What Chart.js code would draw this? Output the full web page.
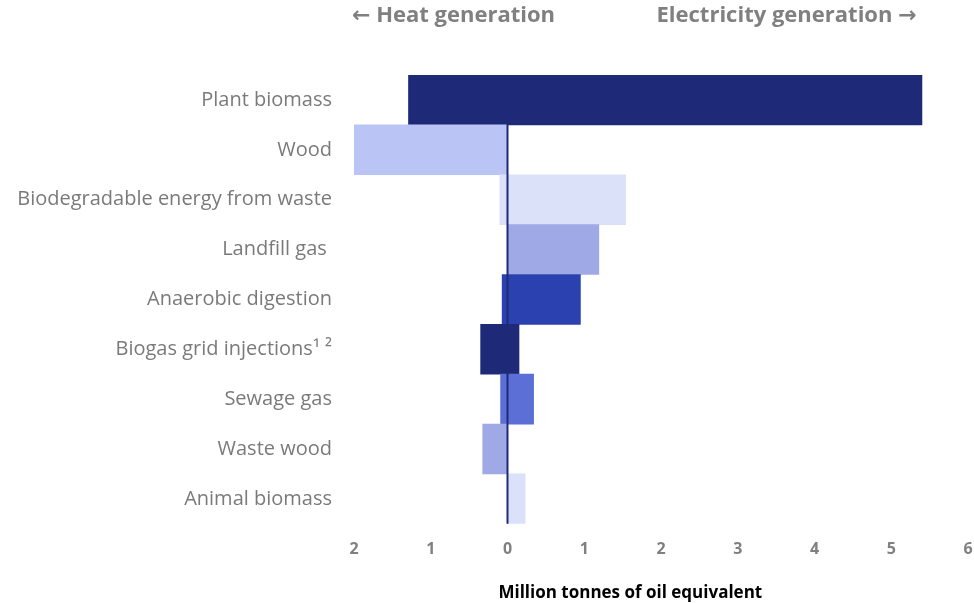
<!DOCTYPE html>
<html>
<head>
<meta charset="utf-8">
<script src="https://cdn.jsdelivr.net/npm/chart.js@4"></script>
<style>
  body { margin: 0; background: #fff; }
  #wrap { width: 974px; height: 603px; position: relative; }
</style>
</head>
<body>
<div id="wrap"><canvas id="bio-chart"></canvas></div>
<script>
// categories, top to bottom
var categories = ['Plant biomass', 'Wood', 'Biodegradable energy from waste', 'Landfill gas ',
  'Anaerobic digestion', 'Biogas grid injections\u00b9 \u00b2', 'Sewage gas', 'Waste wood', 'Animal biomass'];
// heat generation (plotted to the left, negative)
var heatValues = [-1.29, -2.01, -0.10, 0, -0.07, -0.35, -0.09, -0.32, 0];
// electricity generation (plotted to the right)
var elecValues = [5.40, 0, 1.54, 1.19, 0.95, 0.15, 0.34, 0, 0.23];
var barColours = ['#1e2a78', '#bac4f5', '#dce1fa', '#9ea9e6', '#2b41b0', '#1e2a78', '#5b6fd6', '#9ea9e6', '#dce1fa'];
var xTicks = [-2, -1, 0, 1, 2, 3, 4, 5, 6];

var FONT = "'Open Sans', 'DejaVu Sans', sans-serif";

var extraText = {
  id: 'extraText',
  afterDatasetsDraw: function(chart) {
    var c = chart.ctx, x = chart.scales.x, area = chart.chartArea;
    // zero line
    var zx = x.getPixelForValue(0);
    c.save();
    c.strokeStyle = '#1e2a78';
    c.lineWidth = 2;
    c.beginPath();
    c.moveTo(zx, area.top);
    c.lineTo(zx, area.bottom);
    c.stroke();
    c.restore();
  },
  afterDraw: function(chart) {
    var c = chart.ctx, x = chart.scales.x;
    c.save();
    c.fillStyle = '#808080';
    c.font = 'bold 22px ' + FONT;
    c.textBaseline = 'middle';
    c.textAlign = 'left';
    c.fillText('\u2190 Heat generation', x.getPixelForValue(-2) - 2, 16);
    c.textAlign = 'right';
    c.fillText('Electricity generation \u2192', x.getPixelForValue(5.33), 16);
    c.fillStyle = '#000';
    c.font = 'bold 17px ' + FONT;
    c.textAlign = 'center';
    c.fillText('Million tonnes of oil equivalent', x.getPixelForValue(1.6), 593);
    c.restore();
  }
};

var ctx = document.getElementById('bio-chart');
var bioChart = new Chart(ctx, {
  type: 'bar',
  data: {
    labels: categories,
    datasets: [
      {
        label: 'Heat generation',
        data: heatValues,
        backgroundColor: barColours,
        barPercentage: 1,
        categoryPercentage: 1
      },
      {
        label: 'Electricity generation',
        data: elecValues,
        backgroundColor: barColours,
        barPercentage: 1,
        categoryPercentage: 1
      }
    ]
  },
  options: {
    indexAxis: 'y',
    responsive: true,
    maintainAspectRatio: false,
    animation: false,
    layout: { padding: { top: 75, bottom: 28, left: 0, right: 0 } },
    plugins: {
      legend: { display: false },
      tooltip: { enabled: false }
    },
    scales: {
      x: {
        stacked: true,
        min: -2,
        max: 6,
        afterBuildTicks: function(scale) {
          scale.ticks = xTicks.map(function(v) { return { value: v }; });
        },
        afterFit: function(scale) {
          scale.paddingLeft = 0;
          scale.paddingRight = 6;
        },
        grid: { display: false, drawTicks: false },
        border: { display: false },
        ticks: {
          padding: 16,
          color: '#808080',
          font: { family: FONT, size: 16, weight: 'bold' },
          callback: function(v) { return Math.abs(v); }
        }
      },
      y: {
        stacked: true,
        grid: { display: false, drawTicks: false },
        border: { display: false },
        afterFit: function(scale) { scale.width = 354; },
        ticks: {
          padding: 22,
          color: '#7a7a7a',
          font: { family: FONT, size: 20 }
        }
      }
    }
  },
  plugins: [extraText]
});
</script>
</body>
</html>
